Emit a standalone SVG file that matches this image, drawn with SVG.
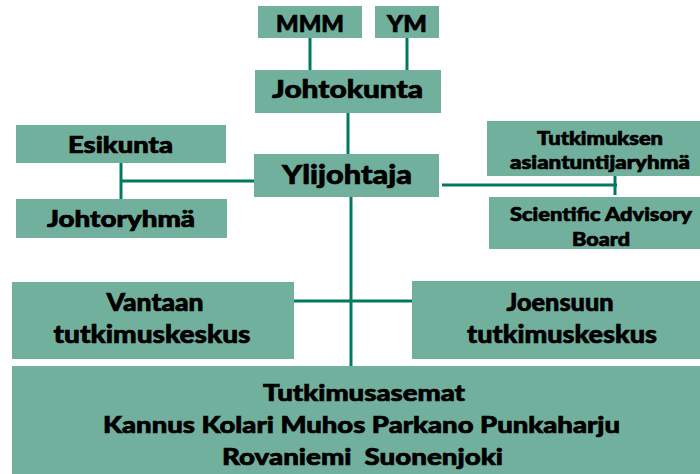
<svg xmlns="http://www.w3.org/2000/svg" width="700" height="474" viewBox="0 0 700 474">
<style>
.box{fill:#72B09E}
.t{font-family:Lato,"Open Sans","DejaVu Sans",sans-serif;font-weight:900;fill:#000;stroke:#000;stroke-width:0.7;text-anchor:middle}
.ln{stroke:#007A5E;stroke-width:3;fill:none}
</style>
<rect width="700" height="474" fill="#fff"/>
<g id="connectors">
<line class="ln" x1="310" y1="38" x2="310" y2="70"/>
<line class="ln" x1="407" y1="38" x2="407" y2="70"/>
<line class="ln" x1="348" y1="113" x2="348" y2="154"/>
<line class="ln" x1="121" y1="163" x2="121" y2="199"/>
<line class="ln" x1="121" y1="181" x2="256" y2="181"/>
<line class="ln" x1="442" y1="185" x2="617" y2="185"/>
<line class="ln" x1="615" y1="176" x2="615" y2="195"/>
<line class="ln" x1="351" y1="197" x2="351" y2="366"/>
<line class="ln" x1="294" y1="301" x2="412" y2="301"/>
</g>
<g id="mmm"><rect class="box" x="258" y="6" width="104" height="32"/><text class="t" x="310" y="32" font-size="23" textLength="68" lengthAdjust="spacingAndGlyphs">MMM</text></g>
<g id="ym"><rect class="box" x="375" y="6" width="64" height="32"/><text class="t" x="407" y="32" font-size="23" textLength="40" lengthAdjust="spacingAndGlyphs">YM</text></g>
<g id="johtokunta"><rect class="box" x="255" y="70" width="186" height="43"/><text class="t" x="347.5" y="98" font-size="25" textLength="151" lengthAdjust="spacingAndGlyphs">Johtokunta</text></g>
<g id="ylijohtaja"><rect class="box" x="254" y="154" width="185" height="43"/><text class="t" x="347" y="184" font-size="27" textLength="130" lengthAdjust="spacingAndGlyphs">Ylijohtaja</text></g>
<g id="esikunta"><rect class="box" x="16" y="125" width="210" height="38"/><text class="t" x="120.5" y="153" font-size="22" textLength="105" lengthAdjust="spacingAndGlyphs">Esikunta</text></g>
<g id="johtoryhma"><rect class="box" x="16" y="199" width="211" height="39"/><text class="t" x="121" y="227" font-size="22" textLength="148" lengthAdjust="spacingAndGlyphs">Johtoryhmä</text></g>
<g id="tutkimuksen"><rect class="box" x="487" y="121" width="213" height="55"/><text class="t" x="600" y="145" font-size="18" textLength="126" lengthAdjust="spacingAndGlyphs">Tutkimuksen</text><text class="t" x="600" y="169" font-size="18" textLength="180" lengthAdjust="spacingAndGlyphs">asiantuntijaryhmä</text></g>
<g id="sab"><rect class="box" x="489" y="197" width="211" height="52"/><text class="t" x="601" y="221" font-size="19" textLength="182" lengthAdjust="spacingAndGlyphs">Scientific Advisory</text><text class="t" x="601" y="246" font-size="19" textLength="58" lengthAdjust="spacingAndGlyphs">Board</text></g>
<g id="vantaan"><rect class="box" x="12" y="282" width="282" height="77"/><text class="t" x="155" y="311" font-size="25" textLength="97" lengthAdjust="spacingAndGlyphs">Vantaan</text><text class="t" x="152" y="343" font-size="25" textLength="197" lengthAdjust="spacingAndGlyphs">tutkimuskeskus</text></g>
<g id="joensuun"><rect class="box" x="412" y="281" width="288" height="78"/><text class="t" x="560" y="311" font-size="25" textLength="107" lengthAdjust="spacingAndGlyphs">Joensuun</text><text class="t" x="562" y="343" font-size="25" textLength="190" lengthAdjust="spacingAndGlyphs">tutkimuskeskus</text></g>
<g id="tutkimusasemat"><rect class="box" x="12" y="366" width="688" height="108"/><text class="t" x="364" y="401" font-size="23" textLength="202" lengthAdjust="spacingAndGlyphs">Tutkimusasemat</text><text class="t" x="361.5" y="433" font-size="23" textLength="517" lengthAdjust="spacingAndGlyphs">Kannus Kolari Muhos Parkano Punkaharju</text><text class="t" x="362.5" y="465" font-size="23" textLength="281" lengthAdjust="spacingAndGlyphs" xml:space="preserve">Rovaniemi  Suonenjoki</text></g>
</svg>
